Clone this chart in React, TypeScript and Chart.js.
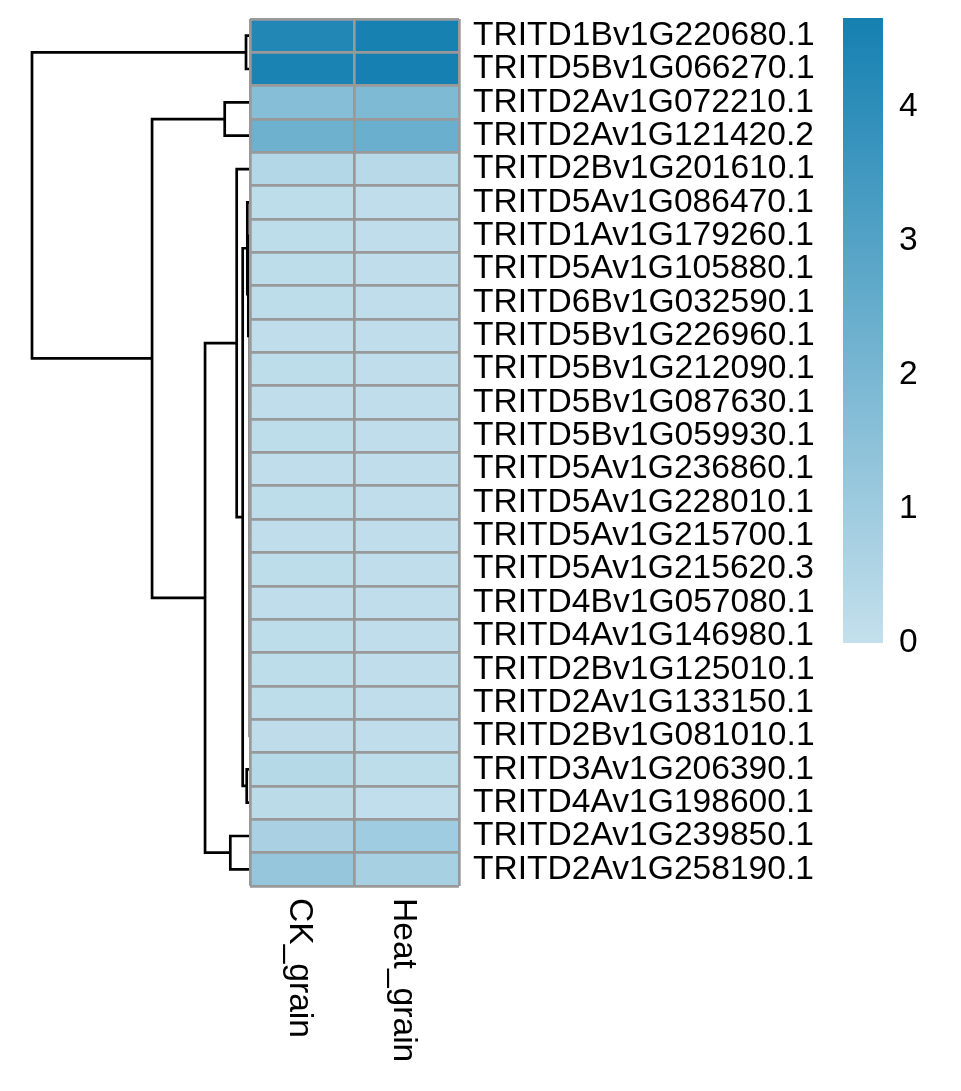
import React, { useEffect, useRef } from "react";
import { Chart, registerables } from "chart.js";

Chart.register(...registerables);

// ---------- data ----------
const genes = [
  "TRITD1Bv1G220680.1",
  "TRITD5Bv1G066270.1",
  "TRITD2Av1G072210.1",
  "TRITD2Av1G121420.2",
  "TRITD2Bv1G201610.1",
  "TRITD5Av1G086470.1",
  "TRITD1Av1G179260.1",
  "TRITD5Av1G105880.1",
  "TRITD6Bv1G032590.1",
  "TRITD5Bv1G226960.1",
  "TRITD5Bv1G212090.1",
  "TRITD5Bv1G087630.1",
  "TRITD5Bv1G059930.1",
  "TRITD5Av1G236860.1",
  "TRITD5Av1G228010.1",
  "TRITD5Av1G215700.1",
  "TRITD5Av1G215620.3",
  "TRITD4Bv1G057080.1",
  "TRITD4Av1G146980.1",
  "TRITD2Bv1G125010.1",
  "TRITD2Av1G133150.1",
  "TRITD2Bv1G081010.1",
  "TRITD3Av1G206390.1",
  "TRITD4Av1G198600.1",
  "TRITD2Av1G239850.1",
  "TRITD2Av1G258190.1",
];

const columns = ["CK_grain", "Heat_grain"];

const ckValues = [
  4.3, 4.5, 1.65, 2.28, 0.42, 0.16, 0.16, 0.15, 0.15, 0.14, 0.15, 0.14, 0.15,
  0.14, 0.15, 0.14, 0.15, 0.14, 0.15, 0.16, 0.15, 0.17, 0.36, 0.24, 0.72, 1.25,
];

const heatValues = [
  4.6, 4.66, 1.84, 2.38, 0.33, 0.14, 0.13, 0.13, 0.13, 0.13, 0.13, 0.13, 0.13,
  0.13, 0.13, 0.13, 0.13, 0.13, 0.13, 0.14, 0.13, 0.14, 0.16, 0.1, 0.98, 0.78,
];

const legendMin = 0;
const legendMax = 4.66;
const lowColor = [196, 224, 236];
const highColor = [21, 128, 177];

// hclust-style merge table: negative = leaf (row number), positive = earlier merge step
const mergeLeft = [-21, -20, -19, -18, -17, -16, -15, -14, -13, -12, -11, -10, -9, -7, 14, -6, -23, -1, 16, -5, -25, -3, 20, 22, 18];
const mergeRight = [-22, 1, 2, 3, 4, 5, 6, 7, 8, 9, 10, 11, 12, -8, 13, 15, -24, -2, 17, 19, -26, -4, 21, 23, 24];
const mergeHeight = [
  0.001, 0.0012, 0.0014, 0.0016, 0.0018, 0.002, 0.0022, 0.0024, 0.0026, 0.0028,
  0.003, 0.0032, 0.0034, 0.004, 0.05, 0.08, 0.098, 0.119, 0.218, 0.397, 0.587,
  0.754, 1.34, 2.92, 6.5,
];

// ---------- helpers ----------
const FONT = "'Liberation Sans', Arial, Helvetica, sans-serif";
const FONT_SIZE = 33.6;

function colorFor(v: number): string {
  const t = Math.max(0, Math.min(1, (v - legendMin) / (legendMax - legendMin)));
  const c = lowColor.map((l, i) => Math.round(l + (highColor[i] - l) * t));
  return `rgb(${c[0]},${c[1]},${c[2]})`;
}

function buildDendrogram() {
  const nodeY: number[] = [];
  const nodeH: number[] = [];
  const pos = (ref: number) =>
    ref < 0 ? { y: -ref, h: 0 } : { y: nodeY[ref - 1], h: nodeH[ref - 1] };
  const pts: any[] = [];
  mergeLeft.forEach((l, k) => {
    const a = pos(l);
    const b = pos(mergeRight[k]);
    const h = mergeHeight[k];
    nodeY.push((a.y + b.y) / 2);
    nodeH.push(h);
    pts.push({ x: a.h, y: a.y }, { x: h, y: a.y }, { x: h, y: b.y }, { x: b.h, y: b.y }, { x: null, y: null });
  });
  return pts;
}

const W = 961;
const H = 1091;

const columnLabelPlugin = {
  id: "columnLabels",
  afterDraw(chart: any) {
    const xs = chart.scales.x;
    const ctx = chart.ctx;
    ctx.save();
    ctx.font = `${FONT_SIZE}px ${FONT}`;
    ctx.fillStyle = "#000";
    ctx.textAlign = "left";
    ctx.textBaseline = "alphabetic";
    columns.forEach((c, i) => {
      const cx = xs.getPixelForValue(i + 0.5);
      ctx.save();
      ctx.translate(cx - 12.5, chart.chartArea.bottom + 12);
      ctx.rotate(Math.PI / 2);
      ctx.fillText(c, 0, 0);
      ctx.restore();
    });
    ctx.restore();
  },
};

export default function App() {
  const dendroRef = useRef<HTMLCanvasElement>(null);
  const heatRef = useRef<HTMLCanvasElement>(null);
  const legendRef = useRef<HTMLCanvasElement>(null);

  useEffect(() => {
    const charts: Chart[] = [];
    const rootH = Math.max(...mergeHeight);

    charts.push(
      new Chart(dendroRef.current!, {
        type: "scatter",
        data: {
          datasets: [
            {
              data: buildDendrogram(),
              showLine: true,
              borderColor: "#000",
              borderWidth: 2.7,
              pointRadius: 0,
              spanGaps: false,
              clip: false as any,
              borderJoinStyle: "miter",
              borderCapStyle: "butt",
              tension: 0,
            } as any,
          ],
        },
        options: {
          animation: false,
          responsive: false,
          events: [],
          layout: { padding: { left: 32, right: W - 250, top: 19, bottom: H - 886 } },
          plugins: { legend: { display: false }, tooltip: { enabled: false } },
          scales: {
            x: { type: "linear", display: false, min: 0, max: rootH, reverse: true },
            y: { type: "linear", display: false, min: 0.5, max: genes.length + 0.5, reverse: true },
          },
        },
      })
    );

    const valueSets = [ckValues, heatValues];
    charts.push(
      new Chart(heatRef.current!, {
        type: "bar",
        data: {
          labels: genes,
          datasets: columns.map((c, ci) => ({
            label: c,
            data: genes.map(() => [ci, ci + 1]),
            backgroundColor: valueSets[ci].map(colorFor),
            borderWidth: 0,
            barPercentage: 1,
            categoryPercentage: 1,
            grouped: false,
          })) as any,
        },
        options: {
          indexAxis: "y",
          animation: false,
          responsive: false,
          events: [],
          layout: { padding: { left: 250, right: 0, top: 19, bottom: H - 886 } },
          plugins: { legend: { display: false }, tooltip: { enabled: false } },
          scales: {
            x: {
              type: "linear",
              min: 0,
              max: columns.length,
              position: "bottom",
              z: 1,
              ticks: { display: false, stepSize: 1 },
              grid: { color: "#999999", lineWidth: 2.7, drawTicks: false, z: 1 },
              border: { display: false },
              afterFit: (s: any) => {
                s.height = 0;
              },
            } as any,
            y: {
              type: "category",
              position: "right",
              offset: true,
              z: 1,
              grid: { offset: true, color: "#999999", lineWidth: 2.7, drawTicks: false, z: 1 },
              border: { display: false },
              ticks: {
                autoSkip: false,
                padding: 14,
                color: "#000",
                font: { family: FONT, size: FONT_SIZE },
              },
              afterFit: (s: any) => {
                s.width = W - 459;
                s.paddingTop = 0;
                s.paddingBottom = 0;
              },
            } as any,
          },
        },
        plugins: [columnLabelPlugin],
      })
    );

    charts.push(
      new Chart(legendRef.current!, {
        type: "bar",
        data: {
          labels: [""],
          datasets: [
            {
              data: [legendMax],
              borderWidth: 0,
              barPercentage: 1,
              categoryPercentage: 1,
              backgroundColor: (ctx: any) => {
                const chart = ctx.chart;
                const ys = chart.scales?.y;
                const area = chart.chartArea;
                if (!ys || !area) return colorFor(legendMin);
                const y0 = ys.getPixelForValue(legendMin);
                const y1 = ys.getPixelForValue(legendMax);
                if (!isFinite(y0) || !isFinite(y1) || y0 === y1) return colorFor(legendMin);
                const g = chart.ctx.createLinearGradient(0, y0, 0, y1);
                g.addColorStop(0, colorFor(legendMin));
                g.addColorStop(1, colorFor(legendMax));
                return g;
              },
            } as any,
          ],
        },
        options: {
          animation: false,
          responsive: false,
          events: [],
          layout: { padding: { left: 843, right: 0, top: 18, bottom: H - 643 } },
          plugins: { legend: { display: false }, tooltip: { enabled: false } },
          scales: {
            x: { display: false, offset: true },
            y: {
              type: "linear",
              min: legendMin,
              max: legendMax,
              position: "right",
              grid: { display: false, drawTicks: false },
              border: { display: false },
              ticks: {
                stepSize: 1,
                includeBounds: false,
                padding: 16,
                color: "#000",
                font: { family: FONT, size: FONT_SIZE },
              },
              afterFit: (s: any) => {
                s.width = W - 883;
                s.paddingTop = 0;
                s.paddingBottom = 0;
              },
            } as any,
          },
        },
      })
    );

    return () => charts.forEach((c) => c.destroy());
  }, []);

  const canvasStyle: React.CSSProperties = {
    position: "absolute",
    left: 0,
    top: 0,
    width: W,
    height: H,
  };

  return (
    <div style={{ position: "absolute", left: 0, top: 0, width: W, height: H, background: "#fff" }}>
      <canvas ref={dendroRef} width={W} height={H} style={canvasStyle} />
      <canvas ref={heatRef} width={W} height={H} style={canvasStyle} />
      <canvas ref={legendRef} width={W} height={H} style={canvasStyle} />
    </div>
  );
}
